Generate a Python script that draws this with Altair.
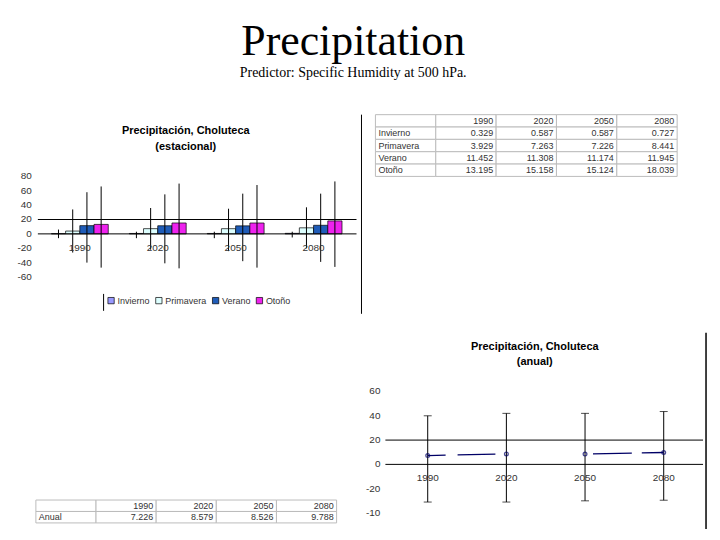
import altair as alt
import pandas as pd

# ---------------- data ----------------
years = ["1990", "2020", "2050", "2080"]
seasons = ["Invierno", "Primavera", "Verano", "Otoño"]
invierno = [0.329, 0.587, 0.587, 0.727]
primavera = [3.929, 7.263, 7.226, 8.441]
verano = [11.452, 11.308, 11.174, 11.945]
otono = [13.195, 15.158, 15.124, 18.039]
# error-bar ends (estimated)
invierno_hi = [6, 3, 3, 3]
invierno_lo = [-6, -6, -6, -5]
primavera_hi = [34, 36, 35, 37]
primavera_lo = [-26, -22, -24, -20]
verano_hi = [58, 55, 56, 56]
verano_lo = [-40, -41, -38, -39]
otono_hi = [66, 70, 68, 73]
otono_lo = [-47, -48, -47, -46]

anual = [7.226, 8.579, 8.526, 9.788]
anual_hi = [40, 42, 42, 43.5]
anual_lo = [-31, -31, -30, -29.5]
anual_segment = ["a", "a", "b", "b"]
segment_dashes = [[18, 12, 38, 14], [0, 8, 39, 10, 22, 60]]

ref_lines = [0, 20]
seasonal_ticks = [-60, -40, -20, 0, 20, 40, 60, 80]
seasonal_tick_labels = ["-60", "-40", "-20", "0", "20", "40", "60", "80"]
anual_ticks = [-40, -20, 0, 20, 40, 60]
anual_tick_labels = ["-10", "-20", "0", "20", "40", "60"]
season_colors = ["#9999FF", "#DDFFFF", "#1F5CB8", "#EE22EE"]

SANS = "Liberation Sans"
SERIF = "Liberation Serif"
TXT = "#333333"

# ---------------- data frames built from the arrays ----------------
season_vals = [invierno, primavera, verano, otono]
season_hi = [invierno_hi, primavera_hi, verano_hi, otono_hi]
season_lo = [invierno_lo, primavera_lo, verano_lo, otono_lo]

rows = []
for s, vals, his, los in zip(seasons, season_vals, season_hi, season_lo):
    for y, v, h, l in zip(years, vals, his, los):
        rows.append({"year": y, "season": s, "value": v, "hi": h, "lo": l})
seasonal_df = pd.DataFrame(rows)

anual_df = pd.DataFrame({"year": years, "value": anual, "hi": anual_hi,
                         "lo": anual_lo, "seg": anual_segment})
ref_df = pd.DataFrame({"v": ref_lines})
one_df = pd.DataFrame({"a": [0]})
label_df = pd.DataFrame({"year": years})
tick1_df = pd.DataFrame({"v": seasonal_ticks, "t": seasonal_tick_labels})
tick2_df = pd.DataFrame({"v": anual_ticks, "t": anual_tick_labels})


def table_frames(row_names, row_values):
    cols = [""] + years
    order = [" "] + row_names
    cells, nums, labs = [], [], []
    for r in order:
        for c in cols:
            cells.append({"row": r, "col": c})
    for y in years:
        nums.append({"row": " ", "col": y, "t": y})
    for r, vals in zip(row_names, row_values):
        labs.append({"row": r, "col": "", "t": r})
        for y, v in zip(years, vals):
            nums.append({"row": r, "col": y, "t": f"{v:.3f}"})
    return order, cols, pd.DataFrame(cells), pd.DataFrame(nums), pd.DataFrame(labs)


def make_table(row_names, row_values, xrange, yrange):
    order, cols, cells, nums, labs = table_frames(row_names, row_values)
    xs = alt.Scale(domain=cols, paddingInner=0, paddingOuter=0, range=xrange)
    ys = alt.Scale(domain=order, paddingInner=0, paddingOuter=0, range=yrange)
    rect = alt.Chart(cells).mark_rect(fill="white", stroke="#BBBBBB", strokeWidth=1).encode(
        x=alt.X("col:N", scale=xs, axis=None),
        y=alt.Y("row:N", scale=ys, axis=None),
    )
    num = alt.Chart(nums).mark_text(align="right", dx=-3, font=SANS, fontSize=9,
                                     color=TXT, baseline="middle").encode(
        x=alt.X("col:N", scale=xs, axis=None, bandPosition=1),
        y=alt.Y("row:N", scale=ys, axis=None, bandPosition=0.5),
        text="t:N",
    )
    lab = alt.Chart(labs).mark_text(align="left", dx=3, font=SANS, fontSize=9,
                                     color=TXT, baseline="middle").encode(
        x=alt.X("col:N", scale=xs, axis=None, bandPosition=0),
        y=alt.Y("row:N", scale=ys, axis=None, bandPosition=0.5),
        text="t:N",
    )
    return alt.layer(rect, num, lab).properties(width=abs(xrange[1] - xrange[0]),
                                                height=abs(yrange[1] - yrange[0]))


# ---------------- seasonal chart ----------------
W1, H1 = 313, 101
xs1 = alt.Scale(domain=years, paddingInner=0.27, paddingOuter=0.135)
ys1 = alt.Scale(domain=[-60, 80], nice=False, zero=False)
off1 = alt.XOffset("season:N", sort=seasons, scale=alt.Scale(paddingInner=0, paddingOuter=0))

bars = alt.Chart(seasonal_df).mark_bar(stroke="black", strokeWidth=0.7).encode(
    x=alt.X("year:N", scale=xs1, axis=None),
    xOffset=off1,
    y=alt.Y("value:Q", scale=ys1, axis=None),
    color=alt.Color("season:N", sort=seasons,
                    scale=alt.Scale(domain=seasons, range=season_colors),
                    legend=alt.Legend(title=None, orient="none", legendX=66, legendY=120,
                                      direction="horizontal", symbolType="square",
                                      symbolSize=40, symbolStrokeColor="black",
                                      symbolStrokeWidth=0.7, labelFont=SANS,
                                      labelFontSize=9, labelColor=TXT, columnPadding=3,
                                      labelOffset=2)),
)
err1 = alt.Chart(seasonal_df).mark_rule(color="black", strokeWidth=1).encode(
    x=alt.X("year:N", scale=xs1, axis=None),
    xOffset=off1,
    y=alt.Y("lo:Q", scale=ys1, axis=None),
    y2="hi:Q",
)
ref1 = alt.Chart(ref_df).mark_rule(color="black", strokeWidth=1).encode(
    y=alt.Y("v:Q", scale=ys1, axis=None), x=alt.value(-3), x2=alt.value(W1 + 4)
)
ticks1 = alt.Chart(tick1_df).mark_text(align="right", baseline="middle", font=SANS,
                                        fontSize=10, color=TXT).encode(
    y=alt.Y("v:Q", scale=ys1, axis=None), x=alt.value(-9), text="t:N"
)
lab1 = alt.Chart(label_df).mark_text(font=SANS, fontSize=10, color=TXT,
                                     baseline="middle").encode(
    x=alt.X("year:N", scale=xs1, axis=None), y=alt.YDatum(-19, axis=None), text="year:N"
)
sep1 = alt.Chart(one_df).mark_rule(color="black", strokeWidth=1).encode(
    x=alt.value(W1 + 9), y=alt.value(-62), y2=alt.value(138)
)
legline = alt.Chart(one_df).mark_rule(color="black", strokeWidth=1).encode(
    x=alt.value(63), y=alt.value(118), y2=alt.value(135)
)
seasonal = alt.layer(bars, err1, ref1, ticks1, lab1, sep1, legline).properties(
    width=W1, height=H1,
    title=alt.TitleParams(["Precipitación, Choluteca", "(estacional)"], font=SANS,
                          fontSize=11, fontWeight="bold", color="black", lineHeight=16,
                          anchor="middle", offset=-38, dx=-11, frame="group"),
)

# ---------------- annual chart ----------------
W2, H2 = 316, 122
xs2 = alt.Scale(domain=years, paddingInner=0, paddingOuter=0)
ys2 = alt.Scale(domain=[-40, 60], nice=False, zero=False)
err2 = alt.Chart(anual_df).mark_rule(color="black", strokeWidth=1).encode(
    x=alt.X("year:N", scale=xs2, axis=None),
    y=alt.Y("lo:Q", scale=ys2, axis=None),
    y2="hi:Q",
)
cap_hi = alt.Chart(anual_df).mark_tick(color="black", thickness=1, size=8).encode(
    x=alt.X("year:N", scale=xs2, axis=None), y=alt.Y("hi:Q", scale=ys2, axis=None)
)
cap_lo = alt.Chart(anual_df).mark_tick(color="black", thickness=1, size=8).encode(
    x=alt.X("year:N", scale=xs2, axis=None), y=alt.Y("lo:Q", scale=ys2, axis=None)
)
ref2 = alt.Chart(ref_df).mark_rule(color="black", strokeWidth=1).encode(
    y=alt.Y("v:Q", scale=ys2, axis=None), x=alt.value(-3), x2=alt.value(W2)
)
ticks2 = alt.Chart(tick2_df).mark_text(align="right", baseline="middle", font=SANS,
                                        fontSize=10, color=TXT).encode(
    y=alt.Y("v:Q", scale=ys2, axis=None), x=alt.value(-8), text="t:N"
)
line2 = alt.Chart(anual_df).mark_line(color="#000066", strokeWidth=1.3).encode(
    x=alt.X("year:N", scale=xs2, axis=None), y=alt.Y("value:Q", scale=ys2, axis=None),
    strokeDash=alt.StrokeDash("seg:N", scale=alt.Scale(domain=["a", "b"], range=segment_dashes),
                              legend=None),
)
pts2 = alt.Chart(anual_df).mark_point(shape="circle", size=14, filled=False,
                                      color="#000066", strokeWidth=1.3).encode(
    x=alt.X("year:N", scale=xs2, axis=None), y=alt.Y("value:Q", scale=ys2, axis=None)
)
lab2 = alt.Chart(label_df).mark_text(font=SANS, fontSize=10, color=TXT,
                                     baseline="middle").encode(
    x=alt.X("year:N", scale=xs2, axis=None), y=alt.YDatum(-11, axis=None), text="year:N"
)
border2 = alt.Chart(one_df).mark_rule(color="black", strokeWidth=1.5).encode(
    x=alt.value(W2 + 3), y=alt.value(-59), y2=alt.value(138)
)
annual = alt.layer(err2, ref2, ticks2, cap_hi, cap_lo, line2, pts2, lab2, border2).properties(
    width=W2, height=H2,
    title=alt.TitleParams(["Precipitación, Choluteca", "(anual)"], font=SANS,
                          fontSize=11, fontWeight="bold", color="black", lineHeight=15,
                          anchor="middle", offset=-35, dx=-11, frame="group"),
)

# ---------------- tables ----------------
table_top = make_table(seasons, season_vals, [-13, 290], [-62, 0])
table_bottom = make_table(["Anual"], [anual], [-5, 297], [0, 23])

left_col = alt.concat(seasonal, table_bottom, columns=1, align="none", spacing=185)
right_col = alt.concat(table_top, annual, columns=1, align="none", spacing=94)

chart = alt.concat(left_col, right_col, columns=2, align="none", spacing=3).properties(
    title=alt.TitleParams("Precipitation",
                          subtitle="Predictor: Specific Humidity at 500 hPa.",
                          font=SERIF, fontSize=44, fontWeight="normal", color="black",
                          subtitleFont=SERIF, subtitleFontSize=14, subtitleColor="black",
                          subtitlePadding=2, anchor="middle", offset=34, dx=-9),
    padding={"left": 9, "top": 11, "right": 5, "bottom": 5},
).configure_view(stroke=None)

chart.save("out.html", embed_options={"renderer": "svg", "actions": False})
